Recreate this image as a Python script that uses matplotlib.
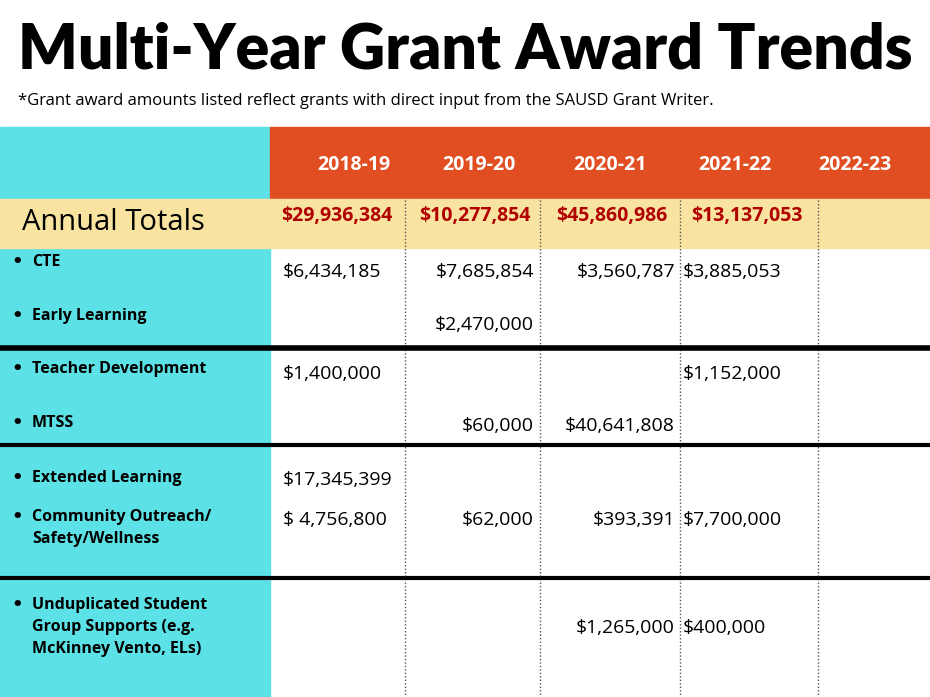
import matplotlib
matplotlib.use("Agg")
import matplotlib.pyplot as plt
from matplotlib.patches import Rectangle

years = ["2018-19", "2019-20", "2020-21", "2021-22", "2022-23"]
totals = ["$29,936,384", "$10,277,854", "$45,860,986", "$13,137,053", ""]
row_labels = ["CTE", "Early Learning", "Teacher Development", "MTSS", "Extended Learning",
              "Community Outreach/\nSafety/Wellness",
              "Unduplicated Student\nGroup Supports (e.g.\nMcKinney Vento, ELs)"]
col_2018 = ["$6,434,185", "", "$1,400,000", "", "$17,345,399", "$ 4,756,800", ""]
col_2019 = ["$7,685,854", "$2,470,000", "", "$60,000", "", "$62,000", ""]
col_2020 = ["$3,560,787", "", "", "$40,641,808", "", "$393,391", "$1,265,000"]
col_2021 = ["$3,885,053", "", "$1,152,000", "", "", "$7,700,000", "$400,000"]
col_2022 = ["", "", "", "", "", "", ""]

W, H = 930, 697
fig = plt.figure(figsize=(9.3, 6.97), dpi=100)
ax = fig.add_axes([0, 0, 1, 1])
ax.set_xlim(0, W); ax.set_ylim(H, 0); ax.axis("off")

FONT = "Open Sans"
ax.add_patch(Rectangle((0, 127), 270, H - 127, color="#5CE1E6"))
ax.add_patch(Rectangle((270, 127), W - 270, 71, color="#E04E22"))
ax.add_patch(Rectangle((0, 199), W, 49, color="#F8E4A0"))

ax.text(18, 50, "Multi-Year Grant Award Trends", fontsize=45, fontweight="heavy",
        family="Lato", va="center", ha="left", color="black")
ax.text(18, 101, "*Grant award amounts listed reflect grants with direct input from the SAUSD Grant Writer.",
        fontsize=12, family=FONT, va="center", ha="left")

hx = [354, 479, 610, 735, 855]
for x, y in zip(hx, years):
    ax.text(x, 165, y, color="white", fontsize=14, fontweight="bold", family=FONT, ha="center", va="center")

ax.text(22, 222, "Annual Totals", fontsize=21, family=FONT, ha="left", va="center")
tx = [337, 475, 612, 747]
for x, t in zip(tx, totals[:4]):
    ax.text(x, 216, t, color="#B00000", fontsize=14, fontweight="bold", family=FONT, ha="center", va="center")

for x in [405, 540, 680, 818]:
    ax.plot([x, x], [200, H], color="#555555", lw=1, ls=(0, (1, 1.5)))

ax.plot([0, W], [348, 348], color="black", lw=4)
ax.plot([0, W], [445, 445], color="black", lw=3)
ax.plot([0, W], [578, 578], color="black", lw=3)

ly = [262, 316, 369, 423, 478, 517, 605]
vy = [272, 325, 374, 426, 480, 520, 628]
for lab, y in zip(row_labels, ly):
    ax.text(11, y, "\u2022", fontsize=13, fontweight="bold", va="center", ha="left")
    for i, line in enumerate(lab.split("\n")):
        ax.text(32, y + 22 * i, line, fontsize=11.5, fontweight="bold", family=FONT,
                va="center", ha="left")

vfs = 14
for vals, x, ha in [(col_2018, 283, "left"), (col_2019, 534, "right"),
                    (col_2020, 675, "right"), (col_2021, 683, "left"), (col_2022, 825, "left")]:
    for v, y in zip(vals, vy):
        if v:
            ax.text(x, y, v, fontsize=vfs, family=FONT, ha=ha, va="center")

fig.savefig("out.png", dpi=100)
